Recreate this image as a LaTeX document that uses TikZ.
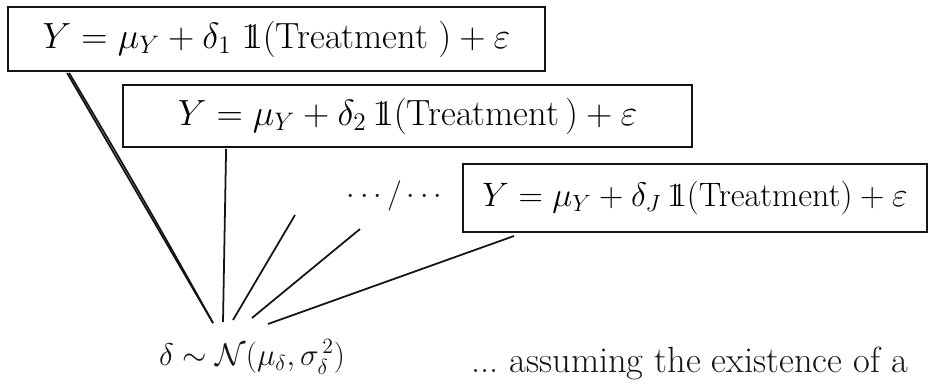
\documentclass[tikz,border=0pt]{standalone}
\usepackage{amsmath,amssymb}
\usepackage{tikz}
\usetikzlibrary{positioning, calc}
\definecolor{inkdark}{RGB}{20,20,20}
\newcommand{\indic}{\mathrm{1\!\!1}}

\tikzset{
  modelbox/.style={draw=inkdark, line width=1.1pt, font=\huge, inner sep=0pt},
  fanline/.style={inkdark, line width=1pt},
}

\begin{document}
\begin{tikzpicture}[x=0.02cm, y=-0.02cm]
% canvas
\useasboundingbox (0,0) rectangle (933,392);
\fill[white] (0,0) rectangle (933,392);

% model boxes
\node[modelbox, minimum width=10.74cm, minimum height=1.28cm] (m1) at (276.5,39)
  {$Y = \mu_Y + \delta_1\;\indic(\text{Treatment}\;) + \varepsilon$};
\node[modelbox, minimum width=11.38cm, minimum height=1.24cm] (m2) at (407.5,116)
  {$Y = \mu_Y + \delta_2\,\indic(\text{Treatment}\,) + \varepsilon$};
\node[modelbox, minimum width=9.28cm, minimum height=1.36cm] (m3) at (695,198)
  {\scalebox{0.93}{$Y = \mu_Y + \delta_J\,\indic(\text{Treatment}) + \varepsilon$}};
\node[inkdark, font=\LARGE] (gap) at (397,196) {$\cdots/\cdots$};

% distribution
\node[inkdark, font=\huge] (dist) at (252,357)
  {\scalebox{0.86}{$\delta\sim\mathcal{N}(\mu_\delta,\sigma_\delta^{\,2})$}};
\node[inkdark, font=\huge, anchor=base west] (note) at (465,372)
  {...\ assuming the existence of a};

% fan of lines
\coordinate (e1) at (213,323);
\coordinate (e2) at (223,322);
\coordinate (e3) at (233,320);
\coordinate (e4) at (252,318);
\coordinate (e5) at (268,324);
\coordinate (t3) at (295,215);
\coordinate (t4) at (360,229);
\draw[fanline] ($(m1.south west)+(60,1)$) -- (e1);
\draw[fanline] ($(m1.south west)+(62,1)$) to[bend left=0.8] (e1);
\draw[fanline] ($(m2.south west)+(104,1)$) -- (e2);
\draw[fanline] (t3) -- (e3);
\draw[fanline] (t4) -- (e4);
\draw[fanline] ($(m3.south west)+(52,3)$) -- (e5);
\end{tikzpicture}
\end{document}
